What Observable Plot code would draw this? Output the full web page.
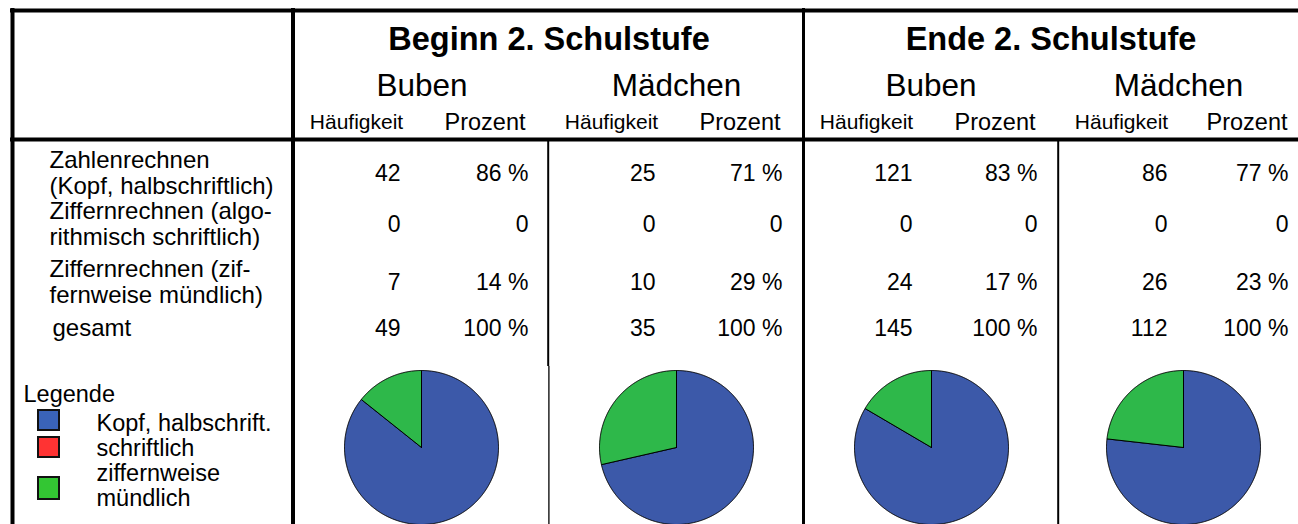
<!DOCTYPE html>
<html><head><meta charset="utf-8">
<script src="https://cdn.jsdelivr.net/npm/d3@7"></script>
<script src="https://cdn.jsdelivr.net/npm/@observablehq/plot@0.6"></script>
<style>
body{margin:0;background:#fff;}
#chart svg{display:block;}
</style>
</head><body><div id="chart"></div>
<script>
// ---------- data ----------
const periods = ["Beginn 2. Schulstufe", "Ende 2. Schulstufe"];
const groups = ["Buben", "Mädchen", "Buben", "Mädchen"];
const measures = ["Häufigkeit", "Prozent"];
const categoryLines = [
  ["Zahlenrechnen", "(Kopf, halbschriftlich)"],
  ["Ziffernrechnen (algo-", "rithmisch schriftlich)"],
  ["Ziffernrechnen (zif-", "fernweise mündlich)"],
  ["gesamt"]
];
const beginnBubenCount = [42, 0, 7, 49];
const beginnBubenPct = ["86 %", "0", "14 %", "100 %"];
const beginnMaedchenCount = [25, 0, 10, 35];
const beginnMaedchenPct = ["71 %", "0", "29 %", "100 %"];
const endeBubenCount = [121, 0, 24, 145];
const endeBubenPct = ["83 %", "0", "17 %", "100 %"];
const endeMaedchenCount = [86, 0, 26, 112];
const endeMaedchenPct = ["77 %", "0", "23 %", "100 %"];
const legendTitle = "Legende";
const legendLabels = [["Kopf, halbschrift."], ["schriftlich"], ["ziffernweise", "mündlich"]];

// ---------- styles / layout ----------
const W = 1298, H = 524;
const FONT = "Liberation Sans, Arial, Helvetica, sans-serif";
const sliceColors = ["#3c59a9", "#ff3333", "#2eb84a"];
const legendColors = ["#3a63b8", "#ff3333", "#33c633"];
const columns = [
  {count: beginnBubenCount, pct: beginnBubenPct},
  {count: beginnMaedchenCount, pct: beginnMaedchenPct},
  {count: endeBubenCount, pct: endeBubenPct},
  {count: endeMaedchenCount, pct: endeMaedchenPct}
];
const colStart = [294, 549, 803, 1058];
const colEnd = [549, 803, 1058, 1298];
const freqRight = [400, 655, 912, 1167];
const pctRight = [528, 782, 1037, 1288];
const freqHeadCenter = [356, 611, 866, 1121];
const pctHeadRight = [525, 780, 1035, 1287];
const pieCx = [421, 676, 931, 1183];
const pieCy = 447, pieR = 77;
const numBase = [180, 231, 289, 335];
const lineGap = 13;

// ---------- derived mark data ----------
const texts = [];
function T(x, y, text, size, anchor, weight = "normal") { texts.push({x, y, text, size, anchor, weight}); }

// period titles
T((colStart[0] + colEnd[1]) / 2, 49, periods[0], 32.5, "middle", "bold");
T((colStart[2] + colEnd[3]) / 2, 49, periods[1], 32.5, "middle", "bold");
groups.forEach((g, i) => {
  T((colStart[i] + colEnd[i]) / 2, 95, g, 31.5, "middle");
  T(freqHeadCenter[i], 128, measures[0], 21, "middle");
  T(pctHeadRight[i], 129, measures[1], 23.5, "end");
});
// row labels
categoryLines.forEach((lines, r) => {
  if (lines.length === 2) {
    T(49, numBase[r] - lineGap, lines[0], 24, "start");
    T(49, numBase[r] + lineGap, lines[1], 24, "start");
  } else {
    T(52, numBase[r], lines[0], 24, "start");
  }
});
// values
columns.forEach((c, i) => {
  c.count.forEach((v, r) => T(freqRight[i], numBase[r], String(v), 23, "end"));
  c.pct.forEach((v, r) => T(pctRight[i], numBase[r], v, 23, "end"));
});
// legend
T(23, 401, legendTitle, 23.5, "start");
const legendBase = [[430], [455], [480, 505]];
legendLabels.forEach((lines, k) => lines.forEach((l, j) => T(96, legendBase[k][j], l, 23.5, "start")));
const legendBoxes = [
  {x1: 38, x2: 59, y1: 410, y2: 430, fill: legendColors[0]},
  {x1: 38, x2: 59, y1: 437, y2: 457, fill: legendColors[1]},
  {x1: 38, x2: 59, y1: 477, y2: 499, fill: legendColors[2]}
];

// pie slices from counts
const pieGen = d3.pie().sort(null).value(d => d);
const slicePts = [];
columns.forEach((c, i) => {
  const arcs = pieGen(c.count.slice(0, 3));
  arcs.forEach((a, k) => {
    const span = a.endAngle - a.startAngle;
    if (span <= 0) return;
    const id = i + "-" + k;
    const n = Math.max(2, Math.ceil(span / 0.01));
    slicePts.push({id, x: pieCx[i], y: pieCy, fill: sliceColors[k]});
    for (let s = 0; s <= n; s++) {
      const t = a.startAngle + span * s / n;
      slicePts.push({id, x: pieCx[i] + pieR * Math.sin(t), y: pieCy - pieR * Math.cos(t), fill: sliceColors[k]});
    }
    slicePts.push({id, x: pieCx[i], y: pieCy, fill: sliceColors[k]});
  });
});

// table lines
const hThick = [{y: 10, x1: 10, x2: W}, {y: 139, x1: 10, x2: W}];
const vThick4 = [{x: 12, y1: 8, y2: H}, {x: 292.5, y1: 8, y2: H}];
const vThick3 = [{x: 803, y1: 8, y2: H}];
const vThin2 = [{x: 547.7, y1: 139, y2: 366}, {x: 1057.7, y1: 139, y2: H}];
const vThin1 = [{x: 548.4, y1: 366, y2: H}];

const chart = Plot.plot({
  width: W, height: H,
  margin: 0,
  x: {domain: [0, W], range: [0, W], axis: null},
  y: {domain: [0, H], range: [0, H], axis: null},
  color: {type: "identity"},
  style: {fontFamily: FONT, background: "#fff"},
  marks: [
    Plot.line(slicePts, {x: "x", y: "y", z: "id", fill: "fill", stroke: "#000", strokeWidth: 1, strokeLinejoin: "round"}),
    Plot.rect(legendBoxes, {x1: "x1", x2: "x2", y1: "y1", y2: "y2", fill: "fill", stroke: "#111", strokeWidth: 2}),
    Plot.ruleY(hThick, {y: "y", x1: "x1", x2: "x2", stroke: "#000", strokeWidth: 4}),
    Plot.ruleX(vThick4, {x: "x", y1: "y1", y2: "y2", stroke: "#000", strokeWidth: 4}),
    Plot.ruleX(vThick3, {x: "x", y1: "y1", y2: "y2", stroke: "#000", strokeWidth: 3}),
    Plot.ruleX(vThin2, {x: "x", y1: "y1", y2: "y2", stroke: "#000", strokeWidth: 2}),
    Plot.ruleX(vThin1, {x: "x", y1: "y1", y2: "y2", stroke: "#000", strokeWidth: 1.3}),
    ...d3.groups(texts, d => `${d.size}|${d.anchor}|${d.weight}`).map(([key, rows]) =>
      Plot.text(rows, {x: "x", y: "y", text: "text", fontSize: rows[0].size, textAnchor: rows[0].anchor,
        fontWeight: rows[0].weight, lineAnchor: "bottom", fill: "#000", fontFamily: FONT}))
  ]
});
document.getElementById("chart").append(chart);
</script>
</body></html>
